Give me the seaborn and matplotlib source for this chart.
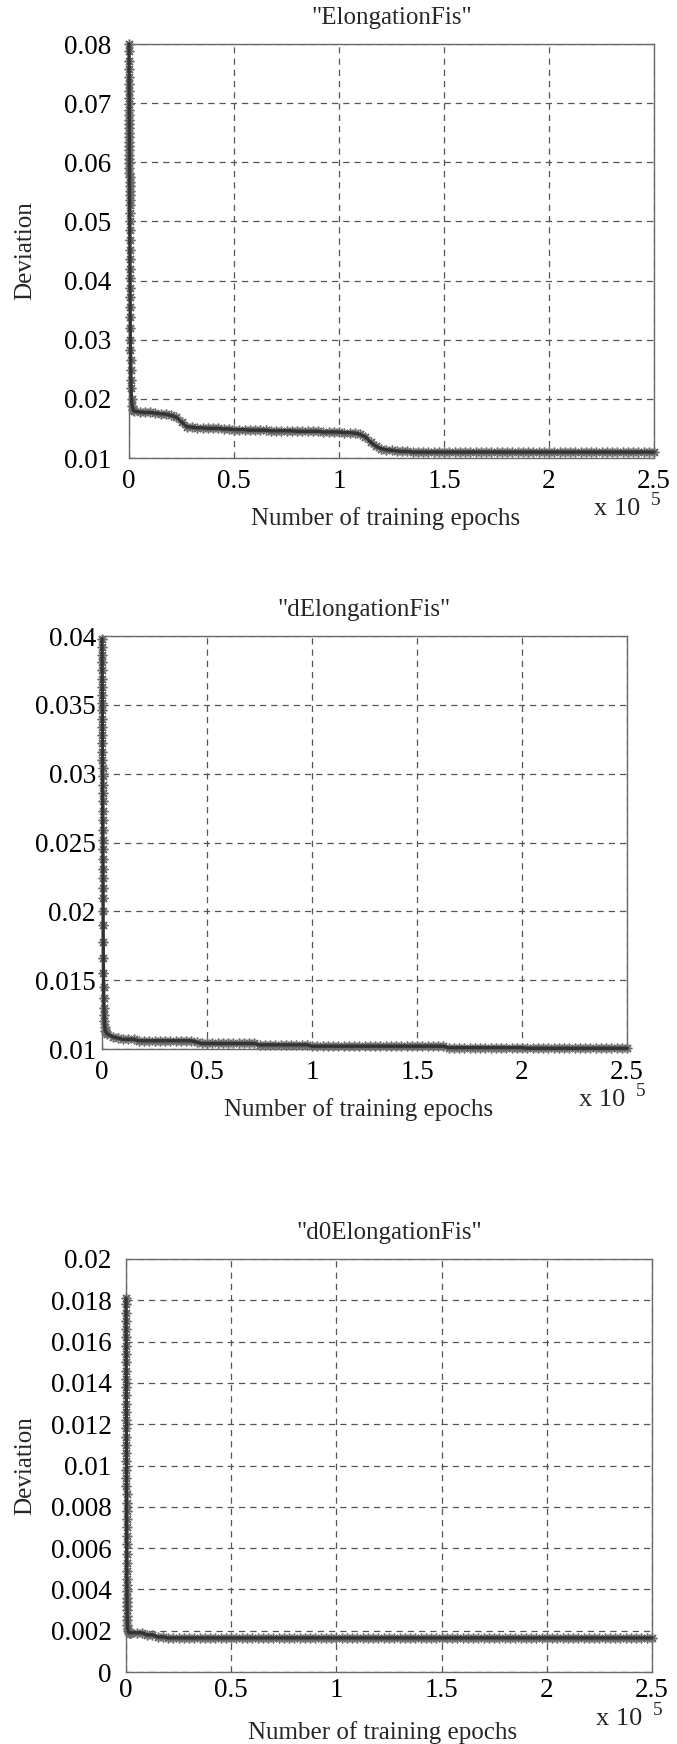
import numpy as np
import pandas as pd
import matplotlib
matplotlib.use("Agg")
import matplotlib.pyplot as plt
import seaborn as sns

# ---------------- data ----------------
titles = ['"ElongationFis"', '"dElongationFis"', '"d0ElongationFis"']
x_label = "Number of training epochs"
y_label = "Deviation"
x_ticks = [0, 50000, 100000, 150000, 200000, 250000]
x_tick_labels = ["0", "0.5", "1", "1.5", "2", "2.5"]

y_ticks_1 = [0.01, 0.02, 0.03, 0.04, 0.05, 0.06, 0.07, 0.08]
y_tick_labels_1 = ["0.01", "0.02", "0.03", "0.04", "0.05", "0.06", "0.07", "0.08"]
y_ticks_2 = [0.01, 0.015, 0.02, 0.025, 0.03, 0.035, 0.04]
y_tick_labels_2 = ["0.01", "0.015", "0.02", "0.025", "0.03", "0.035", "0.04"]
y_ticks_3 = [0, 0.002, 0.004, 0.006, 0.008, 0.01, 0.012, 0.014, 0.016, 0.018, 0.02]
y_tick_labels_3 = ["0", "0.002", "0.004", "0.006", "0.008", "0.01", "0.012",
                   "0.014", "0.016", "0.018", "0.02"]

# recorded epochs after the first 2000 (one record every 2500 epochs)
tail_epochs = list(range(2500, 250001, 2500))

# --- "ElongationFis"
elong_start_epochs = [0, 10, 20, 30, 40, 50, 60, 70, 80, 90, 100, 110, 120, 130, 140,
                      150, 160, 170, 180, 190, 200, 210, 220, 230, 240, 250, 260, 270,
                      280, 290, 300, 320, 340, 360, 380, 400, 420, 440, 460, 480, 500,
                      530, 560, 600, 650, 700, 760, 830, 900, 1000, 1200, 1500, 2000]
elong_start_dev = [0.0800, 0.0788, 0.0772, 0.0758, 0.0745, 0.0732, 0.0720, 0.0708,
                   0.0698, 0.0688, 0.0680, 0.0672, 0.0665, 0.0658, 0.0650, 0.0642,
                   0.0635, 0.0628, 0.0620, 0.0612, 0.0605, 0.0598, 0.0590, 0.0582,
                   0.0575, 0.0567, 0.0560, 0.0552, 0.0545, 0.0537, 0.0528, 0.0515,
                   0.0500, 0.0485, 0.0468, 0.0452, 0.0436, 0.0420, 0.0404, 0.0388,
                   0.0372, 0.0355, 0.0338, 0.0320, 0.0300, 0.0282, 0.0265, 0.0248,
                   0.0232, 0.0218, 0.0200, 0.0188, 0.0181]
elong_tail_dev = [0.0179, 0.0178, 0.0177, 0.0177, 0.0176, 0.0175, 0.0174, 0.0172,
                  0.0169, 0.0161, 0.0153, 0.0152, 0.0151, 0.0151, 0.0150, 0.0150,
                  0.0150, 0.0149, 0.0149, 0.0148, 0.0148, 0.0148, 0.0147, 0.0147,
                  0.0147, 0.0147, 0.0146, 0.0146, 0.0146, 0.0146, 0.0146, 0.0145,
                  0.0145, 0.0145, 0.0145, 0.0145, 0.0144, 0.0144, 0.0144, 0.0144,
                  0.0143, 0.0143, 0.0142, 0.0140, 0.0136, 0.0127, 0.0120, 0.0116,
                  0.0114, 0.0113, 0.0112, 0.0111, 0.0111, 0.0110, 0.0110, 0.0110,
                  0.0110, 0.0110, 0.0110, 0.0110, 0.0110, 0.0110, 0.0110, 0.0110,
                  0.0110, 0.0110, 0.0110, 0.0110, 0.0110, 0.0110, 0.0110, 0.0110,
                  0.0110, 0.0110, 0.0110, 0.0110, 0.0110, 0.0110, 0.0110, 0.0110,
                  0.0110, 0.0110, 0.0110, 0.0110, 0.0110, 0.0110, 0.0110, 0.0110,
                  0.0110, 0.0110, 0.0110, 0.0110, 0.0110, 0.0110, 0.0110, 0.0110,
                  0.0110, 0.0110, 0.0110, 0.0110]

# --- "dElongationFis"
delong_start_epochs = [0, 15, 30, 45, 60, 75, 90, 105, 120, 135, 150, 165, 180, 195,
                       210, 225, 240, 255, 270, 285, 300, 320, 340, 360, 380, 400, 420,
                       440, 460, 480, 500, 530, 560, 600, 650, 700, 760, 830, 900,
                       1000, 1150, 1350, 1600, 2000]
delong_start_dev = [0.0398, 0.0392, 0.0386, 0.0381, 0.0375, 0.0369, 0.0363, 0.0357,
                    0.0351, 0.0346, 0.0340, 0.0334, 0.0328, 0.0322, 0.0316, 0.0310,
                    0.0304, 0.0298, 0.0292, 0.0286, 0.0280, 0.0273, 0.0266, 0.0259,
                    0.0252, 0.0245, 0.0238, 0.0231, 0.0224, 0.0217, 0.0210, 0.0200,
                    0.0190, 0.0178, 0.0166, 0.0155, 0.0145, 0.0137, 0.0130, 0.0125,
                    0.0120, 0.0116, 0.0113, 0.0112]
delong_tail_dev = [0.0111, 0.0109, 0.0108, 0.0107,
                   0.0107, 0.0107, 0.0106, 0.0106, 0.0106, 0.0106, 0.0106, 0.0106,
                   0.0106, 0.0106, 0.0106, 0.0106, 0.0106,
                   0.0105, 0.0104, 0.0104, 0.0104, 0.0104, 0.0104, 0.0104, 0.0104,
                   0.0104, 0.0104, 0.0104, 0.0104, 0.0103, 0.0103, 0.0103, 0.0103,
                   0.0103, 0.0103, 0.0103, 0.0103, 0.0103, 0.0103,
                   0.0102, 0.0102, 0.0102, 0.0102, 0.0102, 0.0102, 0.0102, 0.0102,
                   0.0102, 0.0102, 0.0102, 0.0102, 0.0102, 0.0102, 0.0102, 0.0102,
                   0.0102, 0.0102, 0.0102, 0.0102, 0.0102,
                   0.0102, 0.0102, 0.0102, 0.0102, 0.0102, 0.0101, 0.0101, 0.0101,
                   0.0101, 0.0101, 0.0101, 0.0101, 0.0101, 0.0101, 0.0101, 0.0101,
                   0.0101, 0.0101, 0.0101, 0.0101,
                   0.01005, 0.01005, 0.01005, 0.01005, 0.01005, 0.01005, 0.01005,
                   0.01005, 0.01005, 0.01005, 0.01005, 0.01005, 0.01005, 0.01005,
                   0.01005, 0.01005, 0.01005, 0.01005, 0.01005, 0.01005]

# --- "d0ElongationFis"
d0elong_start_epochs = [0, 10, 20, 30, 40, 50, 60, 70, 80, 90, 100, 110, 120, 130, 140,
                        150, 160, 170, 180, 190, 200, 210, 220, 230, 240, 250, 260, 270,
                        280, 290, 300, 320, 340, 360, 380, 400, 420, 440, 460, 480, 500,
                        550, 600, 700, 800, 1000, 1300, 1700, 2000]
d0elong_start_dev = [0.0181, 0.0178, 0.0174, 0.0170, 0.0166, 0.0162, 0.0158, 0.0154,
                     0.0150, 0.0146, 0.0142, 0.0138, 0.0134, 0.0130, 0.0126, 0.0122,
                     0.0118, 0.0114, 0.0110, 0.0106, 0.0102, 0.0098, 0.0094, 0.0090,
                     0.0086, 0.0082, 0.0078, 0.0074, 0.0070, 0.0066, 0.0062, 0.0057,
                     0.0053, 0.0049, 0.0045, 0.0042, 0.0039, 0.0036, 0.0034, 0.0032,
                     0.0030, 0.0027, 0.0025, 0.0023, 0.0021, 0.0020, 0.0019, 0.0019,
                     0.0019]
d0elong_tail_dev = [0.0019, 0.0019, 0.0019, 0.0018, 0.0018, 0.0017, 0.0017,
                    0.00165, 0.00165, 0.00165, 0.00165, 0.00165, 0.00165, 0.00165,
                    0.00165, 0.00165, 0.00165, 0.00165, 0.00165, 0.00165, 0.00165,
                    0.00165, 0.00165, 0.00165, 0.00165, 0.00165, 0.00165, 0.00165,
                    0.00165, 0.00165, 0.00165, 0.00165, 0.00165, 0.00165, 0.00165,
                    0.00165, 0.00165, 0.00165, 0.00165, 0.00165, 0.00165, 0.00165,
                    0.00165, 0.00165, 0.00165, 0.00165, 0.00165, 0.00165, 0.00165,
                    0.00165, 0.00165, 0.00165, 0.00165, 0.00165, 0.00165, 0.00165,
                    0.00165, 0.00165, 0.00165, 0.00165, 0.00165, 0.00165, 0.00165,
                    0.00165, 0.00165, 0.00165, 0.00165, 0.00165, 0.00165, 0.00165,
                    0.00165, 0.00165, 0.00165, 0.00165, 0.00165, 0.00165, 0.00165,
                    0.00165, 0.00165, 0.00165, 0.00165, 0.00165, 0.00165, 0.00165,
                    0.00165, 0.00165, 0.00165, 0.00165, 0.00165, 0.00165, 0.00165,
                    0.00165, 0.00165, 0.00165, 0.00165, 0.00165, 0.00165, 0.00165,
                    0.00165, 0.00165]

# ---------------- style ----------------
sns.set_style("white")
plt.rcParams["font.family"] = ["Liberation Serif", "DejaVu Serif"]

W, H = 677, 1744
fig = plt.figure(figsize=(W / 100, H / 100), dpi=100)

# panel boxes in pixels: left, right, top, bottom
boxes = [(129, 654, 44, 458), (102, 627, 636, 1049), (126, 652, 1259, 1672)]
ytick_pads = [13, 4.5, 10.5]
xtick_pads = [8, 8, 4.5]
x10_offsets = [(14, 51, 42), (2, 51, 42), (10, 47, 38)]
series = [
    (elong_start_epochs + tail_epochs, elong_start_dev + elong_tail_dev, (0.01, 0.08),
     y_ticks_1, y_tick_labels_1, True),
    (delong_start_epochs + tail_epochs, delong_start_dev + delong_tail_dev, (0.01, 0.04),
     y_ticks_2, y_tick_labels_2, False),
    (d0elong_start_epochs + tail_epochs, d0elong_start_dev + d0elong_tail_dev, (0.0, 0.02),
     y_ticks_3, y_tick_labels_3, True),
]

for i, ((l, r, t, b), (ep, dv, ylim, yt, ytl, has_ylabel)) in enumerate(zip(boxes, series)):
    ax = fig.add_axes([l / W, 1 - b / H, (r - l) / W, (b - t) / H])
    df = pd.DataFrame({"epochs": ep, "deviation": dv})
    # asterisk markers (grey) under a dark connecting line
    sns.lineplot(data=df, x="epochs", y="deviation", ax=ax, estimator=None, sort=False,
                 linestyle="none", marker=(8, 2, 0), markersize=7,
                 markeredgecolor="#6c6c6c", markeredgewidth=1.1, color="#6c6c6c",
                 clip_on=False, zorder=3)
    sns.lineplot(data=df, x="epochs", y="deviation", ax=ax, estimator=None, sort=False,
                 color="#333333", linewidth=2.4, clip_on=False, zorder=4)
    ax.set_xlim(0, 250000)
    ax.set_ylim(*ylim)
    ax.set_xticks(x_ticks)
    ax.set_xticklabels(x_tick_labels)
    ax.set_yticks(yt)
    ax.set_yticklabels(ytl)
    ax.set_xlabel("")
    ax.set_ylabel("")
    ax.grid(True, color="#555555", linestyle=(0, (5, 4)), linewidth=0.9)
    ax.set_axisbelow(True)
    for sp in ax.spines.values():
        sp.set_visible(True)
        sp.set_color("#6a6a6a")
        sp.set_linewidth(1.0)
    ax.tick_params(axis="both", length=0, labelsize=19.5, colors="black")
    ax.tick_params(axis="y", pad=ytick_pads[i])
    ax.tick_params(axis="x", pad=xtick_pads[i])

    aw, ah = r - l, b - t
    ax.text(0.5, 1 + 26 / ah, titles[i], transform=ax.transAxes, ha="center",
            va="center", fontsize=18)
    ax.text(0.5 - 6 / aw, -61 / ah, x_label, transform=ax.transAxes, ha="center",
            va="center", fontsize=18)
    dx, dy1, dy2 = x10_offsets[i]
    ax.text(1 - dx / aw, -dy1 / ah, "x 10", transform=ax.transAxes, ha="right",
            va="center", fontsize=19)
    ax.text(1 - dx / aw + 11 / aw, -dy2 / ah, "5", transform=ax.transAxes, ha="left",
            va="center", fontsize=14)
    if has_ylabel:
        fig.text(25 / W, 1 - ((t + b) / 2) / H, y_label, rotation=90, ha="center",
                 va="center", fontsize=18)

fig.savefig("out.png", dpi=100, facecolor="white")
